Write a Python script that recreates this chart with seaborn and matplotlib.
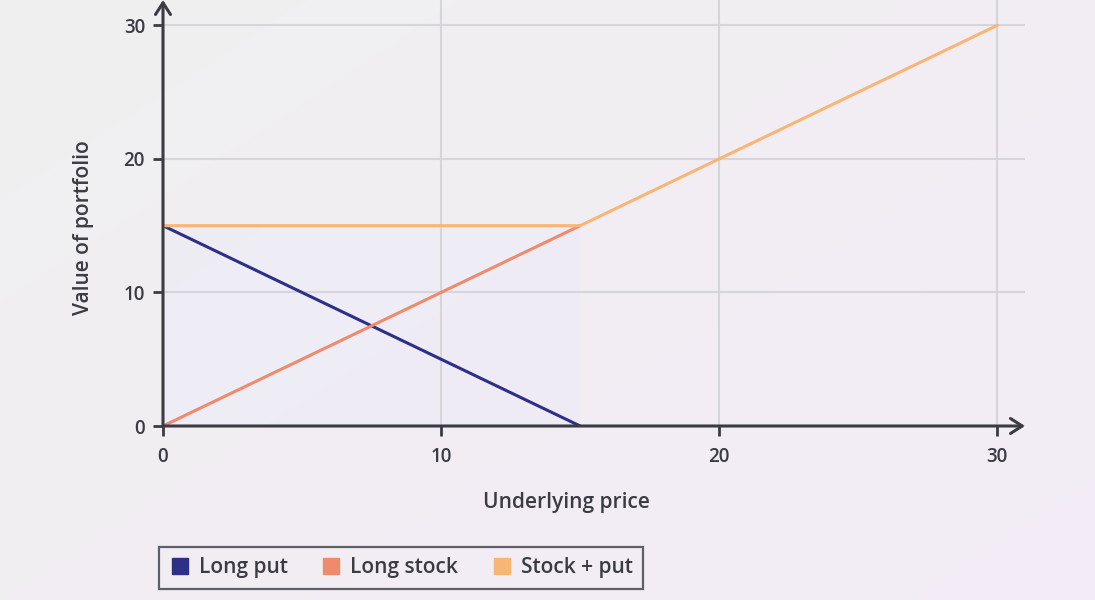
import numpy as np
import pandas as pd
import matplotlib.pyplot as plt
import seaborn as sns
from matplotlib.lines import Line2D

# payoff data
price_put = [0, 15]
long_put = [15, 0]
price_stock = [0, 15]
long_stock = [0, 15]
price_combo = [0, 15, 30]
stock_put = [15, 15, 30]

labels = ['Long put', 'Long stock', 'Stock + put']
colors = ['#2e2f86', '#f08a6c', '#f7b676']
ticks = [0, 10, 20, 30]

df = pd.concat([
    pd.DataFrame({'price': price_put, 'value': long_put, 'series': labels[0]}),
    pd.DataFrame({'price': price_stock, 'value': long_stock, 'series': labels[1]}),
    pd.DataFrame({'price': price_combo, 'value': stock_put, 'series': labels[2]}),
])

sns.set_theme(style='white')
plt.rcParams['font.family'] = ['Open Sans', 'DejaVu Sans']
ink = '#3b3b44'

fig = plt.figure(figsize=(10.95, 6), dpi=100)

# soft background gradient (grey left -> lavender/pink bottom right)
bg = fig.add_axes([0, 0, 1, 1], zorder=-10)
gx, gy = np.meshgrid(np.linspace(0, 1, 200), np.linspace(0, 1, 200))
t = np.clip(0.6 * gx + 0.5 * gy, 0, 1)
c0 = np.array([240, 240, 240]) / 255
c1 = np.array([243, 236, 246]) / 255
img = c0[None, None, :] * (1 - t[..., None]) + c1[None, None, :] * t[..., None]
bg.imshow(img, aspect='auto', extent=[0, 1, 0, 1], origin='upper')
bg.axis('off')

ax = fig.add_axes([163 / 1095, 1 - 426 / 600, 862 / 1095, 426 / 600])
ax.patch.set_alpha(0)

ax.fill_between([0, 15], 0, 15, color='#e8e8fa', alpha=0.3, lw=0, zorder=0)

sns.lineplot(data=df, x='price', y='value', hue='series', palette=colors,
             hue_order=labels, linewidth=2.2, ax=ax, legend=False, zorder=3,
             estimator=None, sort=False)

ax.set_xlim(0, 31.0)
ax.set_ylim(0, 31.9)
ax.set_xticks(ticks)
ax.set_yticks(ticks)
ax.grid(True, color='#d6d6da', linewidth=1.5, zorder=0)
for s in ax.spines.values():
    s.set_visible(False)

ax.tick_params(axis='both', which='both', direction='out', length=7, width=2,
               color=ink, labelcolor=ink, labelsize=13.5, pad=6)
ax.tick_params(axis='x', bottom=True, pad=8)
ax.tick_params(axis='y', left=True)
for lab in ax.get_xticklabels() + ax.get_yticklabels():
    lab.set_fontweight('semibold')

# axis lines with open arrow heads
arrow = dict(arrowstyle='->,head_length=0.7,head_width=0.45', color=ink, lw=2.2,
             shrinkA=0, shrinkB=0)
ax.annotate('', xy=(1.0, 0), xytext=(0, 0), xycoords='axes fraction', arrowprops=arrow,
            annotation_clip=False)
ax.annotate('', xy=(0, 1.0), xytext=(0, 0), xycoords='axes fraction', arrowprops=arrow,
            annotation_clip=False)

ax.set_xlabel('Underlying price', fontsize=15, fontweight='semibold', color=ink)
ax.set_ylabel('Value of portfolio', fontsize=15, fontweight='semibold', color=ink)
ax.xaxis.set_label_coords((566 - 163) / 862, (426 - 492) / 426)
ax.yaxis.set_label_coords((94 - 163) / 862, (426 - 228) / 426)

handles = [Line2D([], [], marker='s', linestyle='none', markersize=12,
                  markerfacecolor=c, markeredgecolor=c) for c in colors]
leg = fig.legend(handles, labels, loc='center', bbox_to_anchor=(401 / 1095, 1 - 568 / 600),
                 ncol=3, frameon=True, fancybox=False, fontsize=15,
                 handletextpad=0.4, columnspacing=1.6, borderpad=0.5,
                 handlelength=1.0, edgecolor=ink, facecolor='none')
leg.get_frame().set_linewidth(1.6)
for txt in leg.get_texts():
    txt.set_color(ink)
    txt.set_fontweight('semibold')

fig.savefig('out.png', dpi=100)
